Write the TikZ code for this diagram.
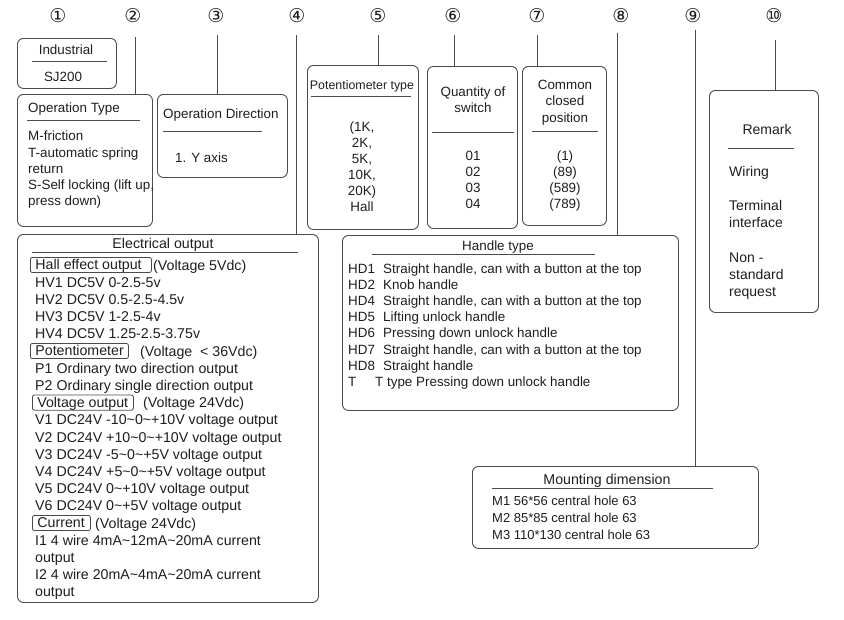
\documentclass[tikz,border=0pt]{standalone}
\usepackage{fontspec}
\setmainfont{Liberation Sans}
\newfontfamily\dvs{DejaVu Sans}
\newcommand\tld{\textasciitilde}
\definecolor{ink}{HTML}{1E1E1E}
\definecolor{edge}{HTML}{4A4A4A}
\tikzset{
  box/.style={draw=edge, line width=0.9pt, rounded corners=6pt, inner sep=0pt, anchor=north west},
  conn/.style={draw=edge, line width=0.9pt},
  rule/.style={draw=edge, line width=0.8pt},
  tx/.style={inner sep=0pt, text depth=0pt, text=ink},
  fA/.style={font=\fontsize{13.4}{16}\selectfont, text height=9.6pt},
  fB/.style={font=\fontsize{14.2}{17}\selectfont, text height=10.2pt},
  fC/.style={font=\fontsize{12.4}{15}\selectfont, text height=8.9pt},
  fD/.style={font=\fontsize{14}{17}\selectfont, text height=10pt},
  fE/.style={font=\fontsize{13}{16}\selectfont, text height=9.3pt},
  num/.style={inner sep=0pt, text=ink, font=\dvs\fontsize{19}{21}\selectfont},
  lab/.style={draw=edge, line width=0.8pt, rounded corners=2pt, inner xsep=5pt, inner ysep=0.7pt,
     text height=11.7pt, text depth=2pt, anchor=west, text=ink,
     font=\fontsize{14.2}{17}\selectfont},
}
\begin{document}
\begin{tikzpicture}[x=1pt,y=-1pt]
\useasboundingbox (0,0) rectangle (844,619);

% circled numbers
\foreach \i/\x/\c in {1/58/①,2/133/②,3/216/③,4/297/④,5/378/⑤,6/453/⑥,7/537/⑦,8/621/⑧,9/693/⑨,10/774/⑩}
  \node[num] (n\i) at (\x,16) {\c};

% boxes
\node[box, minimum width=99pt, minimum height=50pt] (b1) at (17,38) {};
\node[box, minimum width=135pt, minimum height=132pt] (b2) at (17,94) {};
\node[box, minimum width=130pt, minimum height=83pt] (b3) at (157,94) {};
\node[box, minimum width=301pt, minimum height=368pt] (b4) at (17,234) {};
\node[box, minimum width=111pt, minimum height=164pt] (b5) at (307,65) {};
\node[box, minimum width=90pt, minimum height=162pt] (b6) at (427,66) {};
\node[box, minimum width=84pt, minimum height=159pt] (b7) at (522,66) {};
\node[box, minimum width=336pt, minimum height=175pt] (b8) at (342,235) {};
\node[box, minimum width=286pt, minimum height=82pt] (b9) at (472,466) {};
\node[box, minimum width=109pt, minimum height=222pt] (b10) at (709,90) {};

% connectors
\coordinate (c2) at (135,37);
\coordinate (c3) at (217,35);
\coordinate (c4) at (296,35);
\coordinate (c5) at (378,35);
\coordinate (c6) at (454,35);
\coordinate (c7) at (537,35);
\coordinate (c8) at (617,33);
\coordinate (c9) at (695,30);
\coordinate (c10) at (775,40);
\draw[conn] (c2) -- (c2 |- b2.north);
\draw[conn] (c3) -- (c3 |- b3.north);
\draw[conn] (c4) -- (c4 |- b4.north);
\draw[conn] (c5) -- (c5 |- b5.north);
\draw[conn] (c6) -- (c6 |- b6.north);
\draw[conn] (c7) -- (c7 |- b7.north);
\draw[conn] (c8) -- (c8 |- b8.north);
\draw[conn] (c9) -- (c9 |- b9.north);
\draw[conn] (c10) -- (c10 |- b10.north);

% box 1
\node[tx,fA] (t1a) at (66,50) {Industrial};
\draw[rule] (32,61) -- (107,61);
\node[tx,fA] (t1b) at (63,77) {SJ200};

% box 2
\node[tx,fA,anchor=west] (t2a) at (28,108) {Operation Type};
\draw[rule] (27,120) -- (140,120);
\foreach \i/\y/\s in {1/136/M-friction,2/152.5/T-automatic spring,3/169/return,4/185/{S-Self locking (lift up,},5/201/press down)}
  \node[tx,fA,anchor=west] (t2\i) at (28,\y) {\s};

% box 3
\node[tx,fA,anchor=west] (t3a) at (163,114) {Operation Direction};
\draw[rule] (163,131) -- (262,131);
\node[tx,fA,anchor=west] (t3b) at (175,158) {1. Y axis};

% box 5
\node[tx,fC] (t5a) at (362,85) {Potentiometer type};
\draw[rule] (311,96) -- (411,96);
\foreach \i/\y/\s in {1/127/{(1K,},2/143/{2K,},3/159/{5K,},4/175/{10K,},5/191/{20K)},6/207/Hall}
  \node[tx,fA] (t5\i) at (362,\y) {\s};

% box 6
\node[tx,fA] (t6a) at (473,92) {Quantity of};
\node[tx,fA] (t6b) at (473,108) {switch};
\draw[rule] (432,132) -- (514,132);
\foreach \i/\y/\s in {1/156/01,2/172/02,3/188/03,4/204/04}
  \node[tx,fA] (t6\i) at (473,\y) {\s};

% box 7
\node[tx,fA] (t7a) at (565,85) {Common};
\node[tx,fA] (t7b) at (565,101) {closed};
\node[tx,fA] (t7c) at (565,118) {position};
\draw[rule] (532,131) -- (598,131);
\foreach \i/\y/\s in {1/156/(1),2/172/(89),3/188/(589),4/204/(789)}
  \node[tx,fA] (t7\i) at (565,\y) {\s};

% box 10
\node[tx,fD] (t10a) at (767,129) {Remark};
\draw[rule] (728,148) -- (794,148);
\foreach \i/\y/\s in {1/171/Wiring,2/205/Terminal,3/222/interface,4/257/Non -,5/274/standard,6/291/request}
  \node[tx,fD,anchor=west] (t10\i) at (729,\y) {\s};

% box 4: electrical output
\node[tx,fB] (t4a) at (163,243) {Electrical output};
\draw[rule] (32,252) -- (298,252);
\node[lab] (l1) at (30,265) {\makebox[111pt][l]{Hall effect output}};
\node[tx,fB,anchor=west] (l1v) at (153,265) {(Voltage 5Vdc)};
\node[lab] (l2) at (30,351) {\makebox[88pt][l]{Potentiometer}};
\node[tx,fB,anchor=west] (l2v) at (140,351) {(Voltage \ < 36Vdc)};
\node[lab] (l3) at (32,402.6) {\makebox[91pt][l]{Voltage output}};
\node[tx,fB,anchor=west] (l3v) at (143,402.6) {(Voltage 24Vdc)};
\node[lab] (l4) at (32,523) {\makebox[48pt][l]{Current}};
\node[tx,fB,anchor=west] (l4v) at (95,523) {(Voltage 24Vdc)};
\foreach \k/\s in {
  1/{HV1 DC5V 0-2.5-5v},
  2/{HV2 DC5V 0.5-2.5-4.5v},
  3/{HV3 DC5V 1-2.5-4v},
  4/{HV4 DC5V 1.25-2.5-3.75v},
  6/{P1 Ordinary two direction output},
  7/{P2 Ordinary single direction output},
  9/{V1 DC24V -10\tld0\tld+10V voltage output},
  10/{V2 DC24V +10\tld0\tld+10V voltage output},
  11/{V3 DC24V -5\tld0\tld+5V voltage output},
  12/{V4 DC24V +5\tld0\tld+5V voltage output},
  13/{V5 DC24V 0\tld+10V voltage output},
  14/{V6 DC24V 0\tld+5V voltage output},
  16/{I1 4 wire 4mA\tld12mA\tld20mA current},
  17/{output},
  18/{I2 4 wire 20mA\tld4mA\tld20mA current},
  19/{output}}
  \node[tx,fB,anchor=west] (e\k) at (35,{265+17.2*\k}) {\s};

% box 8: handle type
\node[tx,fA] (t8a) at (498,246) {Handle type};
\draw[rule] (372,254) -- (595,254);
\foreach \i/\y/\c/\s in {
  1/269/HD1/{Straight handle, can with a button at the top},
  2/285/HD2/{Knob handle},
  3/301/HD4/{Straight handle, can with a button at the top},
  4/317/HD5/{Lifting unlock handle},
  5/333/HD6/{Pressing down unlock handle},
  6/349.5/HD7/{Straight handle, can with a button at the top},
  7/366/HD8/{Straight handle}}
{
  \node[tx,fA,anchor=west] (h\i c) at (348,\y) {\c};
  \node[tx,fA,anchor=west] (h\i d) at (383,\y) {\s};
}
\node[tx,fA,anchor=west] (h8c) at (348,382) {T};
\node[tx,fA,anchor=west] (h8d) at (375,382) {T type Pressing down unlock handle};

% box 9: mounting
\node[tx,fB] (t9a) at (607,479) {Mounting dimension};
\draw[rule] (492,488) -- (713,488);
\foreach \i/\y/\s in {1/501/M1 56*56 central hole 63,2/518/M2 85*85 central hole 63,3/535/M3 110*130 central hole 63}
  \node[tx,fE,anchor=west] (m\i) at (492,\y) {\s};
\end{tikzpicture}
\end{document}
